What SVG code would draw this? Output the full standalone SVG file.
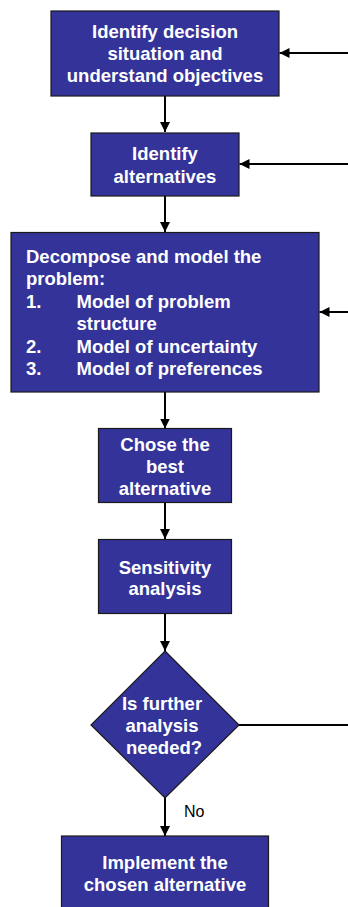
<svg xmlns="http://www.w3.org/2000/svg" width="348" height="907" viewBox="0 0 348 907">
<defs>
<marker id="ah" markerWidth="10" markerHeight="10" refX="10" refY="5" orient="auto" markerUnits="userSpaceOnUse">
<path d="M0,0 L10,5 L0,10 Z" fill="#000"/>
</marker>
<style>
.n{fill:#333399;stroke:#1a1a1a;stroke-width:1.2}
.t{font-family:"Liberation Sans",Arial,sans-serif;font-weight:bold;font-size:18.5px;fill:#fff}
.c{text-anchor:middle}
.e{stroke:#000;stroke-width:2;fill:none}
.l{font-family:"Liberation Sans",Arial,sans-serif;font-size:16px;fill:#000}
</style>
</defs>
<rect width="348" height="907" fill="#fff"/>
<g id="edges">
<line class="e" x1="165" y1="96" x2="165" y2="132" marker-end="url(#ah)"/>
<line class="e" x1="165" y1="196" x2="165" y2="232" marker-end="url(#ah)"/>
<line class="e" x1="165" y1="392" x2="165" y2="428.5" marker-end="url(#ah)"/>
<line class="e" x1="165" y1="502.5" x2="165" y2="539" marker-end="url(#ah)"/>
<line class="e" x1="165" y1="613.5" x2="165" y2="651" marker-end="url(#ah)"/>
<line class="e" x1="165" y1="798" x2="165" y2="836" marker-end="url(#ah)"/>
<line class="e" x1="239" y1="725" x2="348" y2="725"/>
<line class="e" x1="348" y1="53" x2="279.5" y2="53" marker-end="url(#ah)"/>
<line class="e" x1="348" y1="164" x2="239.5" y2="164" marker-end="url(#ah)"/>
<line class="e" x1="348" y1="312" x2="319.5" y2="312" marker-end="url(#ah)"/>
<text class="l" x="184" y="817">No</text>
</g>
<g id="n1">
<rect class="n" x="51" y="11" width="228" height="85"/>
<text class="t c" x="165" y="38">Identify decision</text>
<text class="t c" x="165" y="60">situation and</text>
<text class="t c" x="165" y="82">understand objectives</text>
</g>
<g id="n2">
<rect class="n" x="91" y="133" width="148" height="63"/>
<text class="t c" x="165" y="160">Identify</text>
<text class="t c" x="165" y="183">alternatives</text>
</g>
<g id="n3">
<rect class="n" x="11" y="232.5" width="308" height="159.5"/>
<text class="t" x="26" y="262.5">Decompose and model the</text>
<text class="t" x="26" y="285">problem:</text>
<text class="t" x="26" y="307.5">1.</text>
<text class="t" x="76.5" y="307.5">Model of problem</text>
<text class="t" x="76.5" y="330">structure</text>
<text class="t" x="26" y="352.5">2.</text>
<text class="t" x="76.5" y="352.5">Model of uncertainty</text>
<text class="t" x="26" y="375">3.</text>
<text class="t" x="76.5" y="375">Model of preferences</text>
</g>
<g id="n4">
<rect class="n" x="98.5" y="428.5" width="133" height="74"/>
<text class="t c" x="165" y="451">Chose the</text>
<text class="t c" x="165" y="473">best</text>
<text class="t c" x="165" y="494.5">alternative</text>
</g>
<g id="n5">
<rect class="n" x="98.5" y="539.5" width="133" height="74"/>
<text class="t c" x="165" y="573.5">Sensitivity</text>
<text class="t c" x="165" y="594.5">analysis</text>
</g>
<g id="n6">
<path class="n" d="M165,651 L239,725 L165,798 L91,725 Z"/>
<text class="t c" x="162" y="709.5">Is further</text>
<text class="t c" x="162" y="731.5">analysis</text>
<text class="t c" x="164" y="753.5">needed?</text>
</g>
<g id="n7">
<rect class="n" x="61.5" y="836" width="207" height="80"/>
<text class="t c" x="165" y="868.5">Implement the</text>
<text class="t c" x="165" y="891">chosen alternative</text>
</g>
</svg>
